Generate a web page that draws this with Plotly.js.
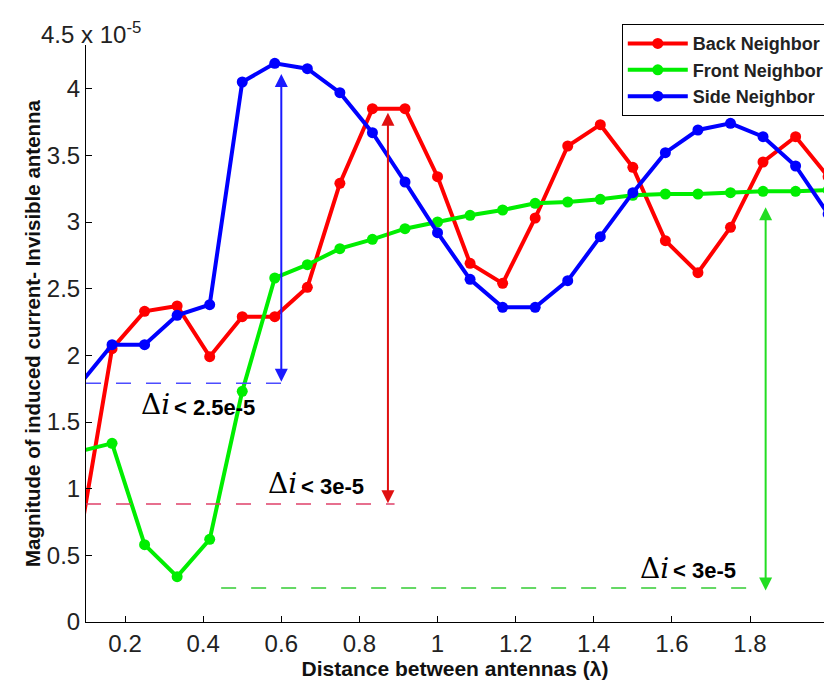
<!DOCTYPE html>
<html>
<head>
<meta charset="utf-8">
<script src="https://cdn.plot.ly/plotly-3.0.1.min.js"></script>
<style>html,body{margin:0;padding:0;background:#fff;}#chart{width:824px;height:680px;}</style>
</head>
<body>
<div id="chart"></div>
<script>
// Distance between antennas (λ)
const distance = [0.0833, 0.1667, 0.25, 0.3333, 0.4167, 0.5, 0.5833, 0.6667, 0.75, 0.8333, 0.9167, 1.0,
                  1.0833, 1.1667, 1.25, 1.3333, 1.4167, 1.5, 1.5833, 1.6667, 1.75, 1.8333, 1.9167, 2.0];
// Induced current magnitude (x 10^-5)
const backNeighbor  = [0.61, 2.05, 2.33, 2.37, 1.99, 2.29, 2.29, 2.51, 3.29, 3.85, 3.85, 3.34,
                       2.69, 2.54, 3.03, 3.57, 3.73, 3.41, 2.86, 2.62, 2.96, 3.45, 3.64, 3.34];
const frontNeighbor = [1.28, 1.34, 0.58, 0.34, 0.62, 1.73, 2.58, 2.68, 2.80, 2.87, 2.95, 3.00,
                       3.05, 3.09, 3.14, 3.15, 3.17, 3.20, 3.21, 3.21, 3.22, 3.23, 3.23, 3.24];
const sideNeighbor  = [1.78, 2.08, 2.08, 2.30, 2.38, 4.05, 4.19, 4.15, 3.97, 3.67, 3.30, 2.92,
                       2.57, 2.36, 2.36, 2.56, 2.89, 3.22, 3.52, 3.69, 3.74, 3.64, 3.42, 3.06];
const seriesNames = ["Back Neighbor", "Front Neighbor", "Side Neighbor"];
const xTicks = [0.2, 0.4, 0.6, 0.8, 1, 1.2, 1.4, 1.6, 1.8];
const yTicks = [0, 0.5, 1, 1.5, 2, 2.5, 3, 3.5, 4];

// Δi markers: arrow x, arrow top, arrow bottom, dashed line start x, end x, level
const deltaLabels = ["&lt; 2.5e-5", "&lt; 3e-5", "&lt; 3e-5"];
const arrowX      = [0.6, 0.873, 1.84];
const arrowTop    = [4.11, 3.82, 3.11];
const arrowBottom = [1.79, 0.88, 0.225];
const dashStart   = [0.1, 0.1, 0.446];
const dashEnd     = [0.607, 0.89, 1.805];
const dashLevel   = [1.79, 0.885, 0.255];

const sansBold = "Arial, 'Liberation Sans', sans-serif";
const colors = ["#ff0000", "#00ee00", "#0000ff"];
const arrowColors = ["#1a1aff", "#e01010", "#22dd22"];
const dashColors = ["#4d4dff", "#e0406a", "#33cc33"];

const allSeries = [backNeighbor, frontNeighbor, sideNeighbor];
const traces = allSeries.map((ys, i) => ({
  x: distance, y: ys, name: seriesNames[i], type: "scatter", mode: "lines+markers",
  line: {color: colors[i], width: 4},
  marker: {color: colors[i], size: 11, symbol: "circle"}
}));

const shapes = dashLevel.map((lv, i) => ({
  type: "line", xref: "x", yref: "y", x0: dashStart[i], x1: dashEnd[i], y0: lv, y1: lv,
  line: {color: dashColors[i], width: 1.5, dash: "longdash"}
}));

const annotations = [];
arrowX.forEach((ax, i) => {
  annotations.push({
    x: ax, y: arrowTop[i], ax: ax, ay: arrowBottom[i], xref: "x", yref: "y", axref: "x", ayref: "y",
    text: "", showarrow: true, arrowside: "end+start", arrowhead: 2, arrowsize: 1.3, arrowwidth: 2,
    arrowcolor: arrowColors[i], standoff: 0, startstandoff: 0
  });
});
const deltaPos = [[0.32, 1.63], [0.645, 1.04], [1.598, 0.405]];
deltaPos.forEach((p, i) => {
  annotations.push({
    x: p[0], y: p[1], xref: "x", yref: "y", showarrow: false, xanchor: "right", yanchor: "middle",
    text: "Δ<i>i</i>", font: {family: "'DejaVu Serif', 'Liberation Serif', serif", size: 28, color: "#000"}
  });
  annotations.push({
    x: p[0], y: p[1] - 0.02, xref: "x", yref: "y", showarrow: false, xanchor: "left", yanchor: "middle",
    text: "<b>" + deltaLabels[i] + "</b>", font: {family: sansBold, size: 22, color: "#000"}
  });
});
annotations.push({
  x: -0.064, y: 1.02, xref: "paper", yref: "paper", xanchor: "left", yanchor: "middle", showarrow: false,
  text: "4.5 x 10<sup>-5</sup>", font: {family: "Arial, 'Liberation Sans', sans-serif", size: 24, color: "#222"}
});

const layout = {
  width: 824, height: 680,
  margin: {l: 86, r: 0, t: 45, b: 58, autoexpand: false},
  paper_bgcolor: "#fff", plot_bgcolor: "#fff",
  showlegend: true,
  legend: {
    x: 0.726, y: 1.036, xanchor: "left", yanchor: "top",
    bgcolor: "#fff", bordercolor: "#000", borderwidth: 1,
    font: {family: sansBold, size: 18, color: "#222", weight: "bold"},
    itemwidth: 60, tracegroupgap: 0
  },
  xaxis: {
    range: [0.1, 1.9894], tickvals: xTicks, ticks: "inside", ticklen: 6, tickcolor: "#000",
    showline: true, linecolor: "#000", linewidth: 1, showgrid: false, zeroline: false, mirror: false,
    tickfont: {family: "Arial, 'Liberation Sans', sans-serif", size: 24, color: "#222"},
    title: {text: "<b>Distance between antennas (λ)</b>", font: {family: sansBold, size: 21, color: "#111"}, standoff: 3}
  },
  yaxis: {
    range: [0, 4.3275], tickvals: yTicks, ticks: "inside", ticklen: 6, tickcolor: "#000",
    showline: true, linecolor: "#000", linewidth: 1, showgrid: false, zeroline: false, mirror: false,
    tickfont: {family: "Arial, 'Liberation Sans', sans-serif", size: 24, color: "#222"},
    title: {text: "<b>Magnitude of induced current- Invisible antenna</b>", font: {family: sansBold, size: 20.5, color: "#111"}, standoff: 0}
  },
  shapes: shapes,
  annotations: annotations
};

Plotly.newPlot("chart", traces, layout, {displayModeBar: false, staticPlot: true});
</script>
</body>
</html>
